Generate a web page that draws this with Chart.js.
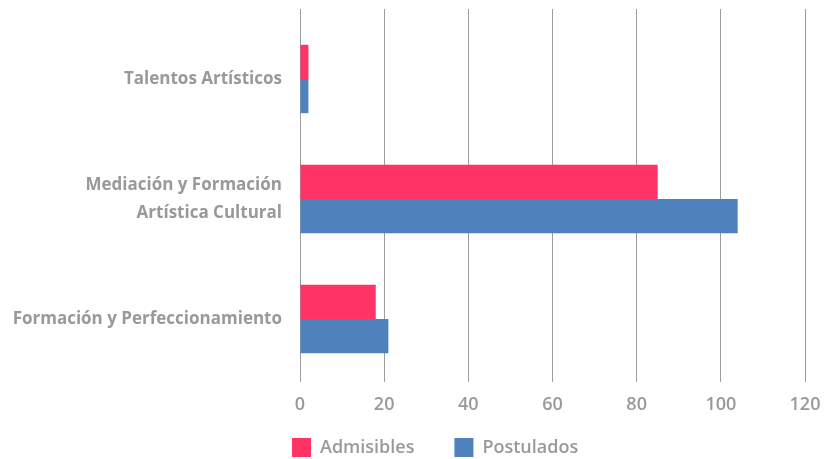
<!DOCTYPE html>
<html>
<head>
<meta charset="utf-8">
<script src="https://cdn.jsdelivr.net/npm/chart.js@4/dist/chart.umd.min.js"></script>
<style>
  html, body { margin: 0; padding: 0; background: #ffffff; }
  #wrap { width: 826px; height: 459px; position: relative; }
</style>
</head>
<body>
<div id="wrap"><canvas id="c" width="826" height="459"></canvas></div>
<script>
const categories = [
  'Talentos Artísticos',
  ['Mediación y Formación', 'Artística Cultural'],
  'Formación y Perfeccionamiento'
];
const seriesNames = ['Admisibles', 'Postulados'];
const admisibles = [2, 85, 18];
const postulados = [2, 104, 21];
const xTicks = [0, 20, 40, 60, 80, 100, 120];

const FONT = '"Open Sans", "Noto Sans", sans-serif';
const TEXT = '#999999';
const GRID = '#9c9c9c';

// Legend placement: boxes start at LEGEND_X, their top at LEGEND_Y
const LEGEND_X = 292;
const LEGEND_Y = 438;
const legendPlace = {
  id: 'legendPlace',
  afterLayout(chart) {
    const lg = chart.legend;
    if (!lg || lg._placed) return;
    const orig = lg.draw;
    lg.draw = function (...args) {
      const pad = this.options.labels.padding;
      const t = this.top, l = this.left, r = this.right;
      const start = (l + pad + r - this.lineWidths[0]) / 2;
      const dx = LEGEND_X - start;
      this.top = LEGEND_Y - pad;
      this.left = l + dx; this.right = r + dx;
      orig.apply(this, args);
      this.top = t; this.left = l; this.right = r;
    };
    lg._placed = true;
  }
};

const noPad = (s) => { s.paddingTop = 0; s.paddingBottom = 0; s.paddingLeft = 0; s.paddingRight = 0; };

new Chart(document.getElementById('c'), {
  type: 'bar',
  data: {
    labels: categories,
    datasets: [
      { label: seriesNames[0], data: admisibles, backgroundColor: '#FF3366', borderWidth: 0 },
      { label: seriesNames[1], data: postulados, backgroundColor: '#4F81BD', borderWidth: 0 }
    ]
  },
  plugins: [legendPlace],
  options: {
    indexAxis: 'y',
    responsive: false,
    animation: false,
    devicePixelRatio: 1,
    categoryPercentage: 0.57,
    barPercentage: 1.0,
    layout: { padding: { left: 0, right: 21, top: 9, bottom: 0 } },
    plugins: {
      tooltip: { enabled: false },
      legend: {
        position: 'bottom',
        align: 'center',
        maxHeight: 44,
        labels: {
          boxWidth: 19,
          boxHeight: 19,
          padding: 40,
          color: TEXT,
          font: { family: FONT, size: 18, weight: '600' }
        }
      }
    },
    scales: {
      x: {
        position: 'bottom',
        min: xTicks[0],
        max: xTicks[xTicks.length - 1],
        afterBuildTicks: (s) => { s.ticks = xTicks.map(v => ({ value: v })); },
        afterFit: (s) => { s.height = 36; noPad(s); },
        border: { display: false },
        grid: { color: GRID, lineWidth: 1, tickLength: 3, drawTicks: true },
        ticks: { color: TEXT, padding: 12, font: { family: FONT, size: 18, weight: '600' } }
      },
      x2: {
        axis: 'x',
        position: 'top',
        min: xTicks[0],
        max: xTicks[xTicks.length - 1],
        afterBuildTicks: (s) => { s.ticks = xTicks.map(v => ({ value: v })); },
        afterFit: (s) => { s.height = 10; noPad(s); },
        border: { display: false },
        grid: { color: GRID, lineWidth: 1, tickLength: 10, drawOnChartArea: false, drawTicks: true },
        ticks: { display: false }
      },
      y: {
        afterFit: (s) => { s.width = 300; noPad(s); },
        border: { display: false },
        grid: { display: false, drawTicks: false },
        ticks: { color: TEXT, padding: 18, font: { family: FONT, size: 17, weight: '700', lineHeight: 1.62 } }
      }
    }
  }
});
</script>
</body>
</html>
